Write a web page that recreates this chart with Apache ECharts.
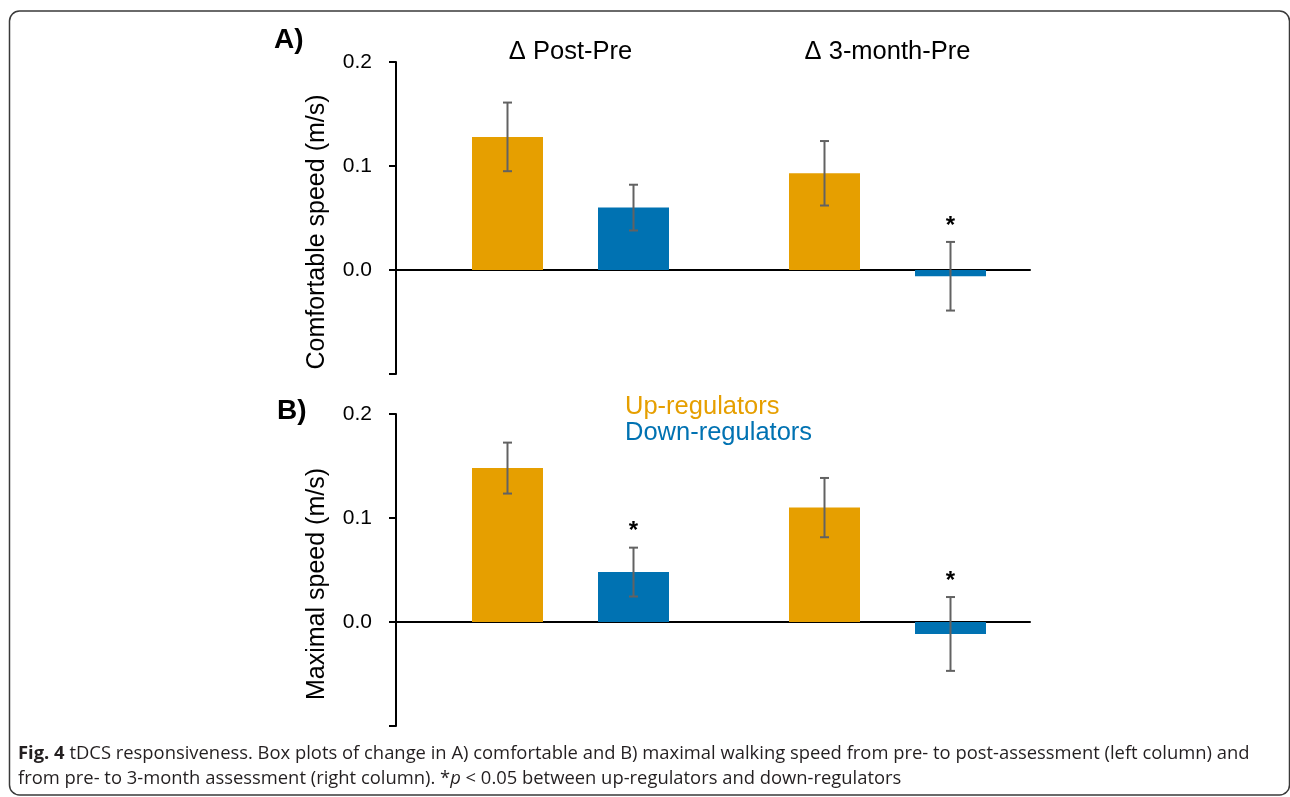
<!DOCTYPE html>
<html>
<head>
<meta charset="utf-8">
<script src="https://cdn.jsdelivr.net/npm/echarts@6/dist/echarts.min.js"></script>
<style>
html,body{margin:0;padding:0;background:#fff;}
#c{width:1290px;height:797px;}
</style>
</head>
<body>
<div id="c"></div>
<script>
// ---- data ----
const groups = ['Δ Post-Pre', 'Δ 3-month-Pre'];
const seriesNames = ['Up-regulators', 'Down-regulators'];
// Panel A: comfortable speed (m/s)
const comfUp = [0.128, 0.093];
const comfUpErr = [0.033, 0.031];
const comfDown = [0.060, -0.006];
const comfDownErr = [0.022, 0.033];
const comfDownSig = [0, 1];
// Panel B: maximal speed (m/s)
const maxUp = [0.148, 0.110];
const maxUpErr = [0.0245, 0.0285];
const maxDown = [0.048, -0.0115];
const maxDownErr = [0.0235, 0.0355];
const maxDownSig = [1, 1];
const yMin = -0.1, yMax = 0.2, yStep = 0.1;
const caption = '{b|Fig. 4} tDCS responsiveness. Box plots of change in A) comfortable and B) maximal walking speed from pre- to post-assessment (left column) and\nfrom pre- to 3-month assessment (right column). *{i|p} < 0.05 between up-regulators and down-regulators';

// ---- style ----
const ORANGE = '#E69F00', BLUE = '#0072B2', ERR = '#626262';
const FONT = 'Liberation Sans';
const CAP_FONT = 'Open Sans', CAP_SIZE = 18.4;
const BAR_W = 71, BAR_GAP = 55;
const OFFSET = (BAR_W + BAR_GAP) / 2;

function errData(means, errs, sig) {
  return means.map((m, i) => [i, m, errs[i], sig ? sig[i] : 0]);
}
function errSeries(xi, yi, means, errs, sig, sign) {
  return {
    type: 'custom', xAxisIndex: xi, yAxisIndex: yi, z: 5,
    data: errData(means, errs, sig),
    renderItem: function (params, api) {
      const ci = api.value(0), m = api.value(1), e = api.value(2), s = api.value(3);
      const top = api.coord([ci, m + e]);
      const bot = api.coord([ci, m - e]);
      const x = top[0] + sign * OFFSET;
      const st = { stroke: ERR, lineWidth: 2 };
      const ch = [
        { type: 'line', shape: { x1: x, y1: top[1], x2: x, y2: bot[1] }, style: st },
        { type: 'line', shape: { x1: x - 4.5, y1: top[1], x2: x + 4.5, y2: top[1] }, style: st },
        { type: 'line', shape: { x1: x - 4.5, y1: bot[1], x2: x + 4.5, y2: bot[1] }, style: st }
      ];
      if (s) {
        ch.push({ type: 'text', style: { text: '*', x: x, y: top[1] - 16, align: 'center', verticalAlign: 'middle', fill: '#000', font: 'bold 24px "Liberation Sans"' } });
      }
      return { type: 'group', children: ch };
    }
  };
}

const axesX = (gi) => ({
  gridIndex: gi, type: 'value', min: 0, max: 1,
  axisLine: { show: true, onZero: true, lineStyle: { color: '#000', width: 2 } },
  axisTick: { show: false }, axisLabel: { show: false }, splitLine: { show: false }
});
const axesY = (gi, name) => ({
  gridIndex: gi, type: 'value', min: yMin, max: yMax, interval: yStep,
  name: name, nameLocation: 'middle', nameGap: 66,
  nameTextStyle: { fontFamily: FONT, fontSize: 25, color: '#000', padding: [0, 28, 0, 0] },
  axisLine: { show: true, lineStyle: { color: '#000', width: 2 } },
  axisTick: { show: true, length: 7, lineStyle: { color: '#000', width: 2 } },
  axisLabel: { fontFamily: FONT, fontSize: 21, color: '#000', margin: 24,
    formatter: v => (v < -1e-9 ? '' : v.toFixed(1)) },
  splitLine: { show: false }
});
const barsY = (gi) => ({ gridIndex: gi, type: 'value', min: yMin, max: yMax, interval: yStep, show: false });

const option = {
  backgroundColor: '#fff',
  animation: false,
  graphic: [{
    type: 'rect', silent: true, z: -10,
    shape: { x: 9.5, y: 11, width: 1280, height: 784, r: 10 },
    style: { fill: 'none', stroke: '#3a3a3a', lineWidth: 1.5 }
  }],
  title: [
    { text: 'A)', left: 269, top: 21, textStyle: { fontFamily: FONT, fontWeight: 'bold', fontSize: 28, color: '#000' } },
    { text: 'B)', left: 272, top: 392, textStyle: { fontFamily: FONT, fontWeight: 'bold', fontSize: 28, color: '#000' } },
    { text: caption, left: 13, top: 736,
      textStyle: { fontFamily: CAP_FONT, fontSize: CAP_SIZE, fontWeight: 'normal', color: '#231f20', lineHeight: 25,
        rich: {
          b: { fontFamily: CAP_FONT, fontSize: CAP_SIZE, fontWeight: 'bold', color: '#231f20', lineHeight: 25 },
          i: { fontFamily: CAP_FONT, fontSize: CAP_SIZE, fontStyle: 'italic', color: '#231f20', lineHeight: 25 }
        } } }
  ],
  legend: {
    orient: 'vertical', left: 615, top: 389, itemWidth: 0, itemHeight: 0, itemGap: 0,
    selectedMode: false,
    textStyle: { fontFamily: FONT, fontSize: 25.5, lineHeight: 23.5 },
    data: [
      { name: seriesNames[0], icon: 'rect', textStyle: { color: ORANGE } },
      { name: seriesNames[1], icon: 'rect', textStyle: { color: BLUE } }
    ]
  },
  grid: [
    { left: 396, width: 634, top: 62, height: 312 },
    { left: 412, width: 634, top: 62, height: 312 },
    { left: 396, width: 634, top: 414, height: 312 },
    { left: 412, width: 634, top: 414, height: 312 }
  ],
  xAxis: [
    axesX(0),
    { gridIndex: 1, type: 'category', data: groups, position: 'top',
      axisLine: { show: false }, axisTick: { show: false }, splitLine: { show: false },
      axisLabel: { fontFamily: FONT, fontSize: 25.5, color: '#000', margin: -3 } },
    axesX(2),
    { gridIndex: 3, type: 'category', data: groups, show: false }
  ],
  yAxis: [
    axesY(0, 'Comfortable speed (m/s)'),
    barsY(1),
    axesY(2, 'Maximal speed (m/s)'),
    barsY(3)
  ],
  series: [
    { type: 'bar', name: seriesNames[0], xAxisIndex: 1, yAxisIndex: 1, data: comfUp, barWidth: BAR_W, barGap: (BAR_GAP / BAR_W * 100) + '%', itemStyle: { color: ORANGE } },
    { type: 'bar', name: seriesNames[1], xAxisIndex: 1, yAxisIndex: 1, data: comfDown, barWidth: BAR_W, barGap: (BAR_GAP / BAR_W * 100) + '%', itemStyle: { color: BLUE } },
    { type: 'bar', name: seriesNames[0], xAxisIndex: 3, yAxisIndex: 3, data: maxUp, barWidth: BAR_W, barGap: (BAR_GAP / BAR_W * 100) + '%', itemStyle: { color: ORANGE } },
    { type: 'bar', name: seriesNames[1], xAxisIndex: 3, yAxisIndex: 3, data: maxDown, barWidth: BAR_W, barGap: (BAR_GAP / BAR_W * 100) + '%', itemStyle: { color: BLUE } },
    errSeries(1, 1, comfUp, comfUpErr, null, -1),
    errSeries(1, 1, comfDown, comfDownErr, comfDownSig, 1),
    errSeries(3, 3, maxUp, maxUpErr, null, -1),
    errSeries(3, 3, maxDown, maxDownErr, maxDownSig, 1)
  ]
};

const chart = echarts.init(document.getElementById('c'), null, { renderer: 'canvas' });
chart.setOption(option);
</script>
</body>
</html>
